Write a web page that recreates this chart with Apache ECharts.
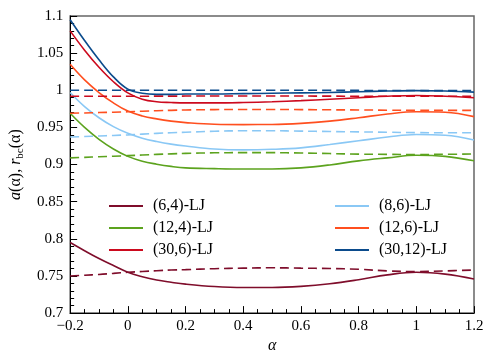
<!DOCTYPE html>
<html>
<head>
<meta charset="utf-8">
<script src="https://cdn.jsdelivr.net/npm/echarts@6/dist/echarts.min.js"></script>
<style>
  html, body { margin: 0; padding: 0; background: #fff; }
  #chart { width: 488px; height: 359px; }
</style>
</head>
<body>
<div id="chart"></div>
<script>
// alpha 取值
const alphaList = [-0.2, -0.15, -0.1, -0.05, 0, 0.05, 0.1, 0.15, 0.2, 0.3, 0.4, 0.5, 0.6, 0.7, 0.8, 0.9, 1.0, 1.1, 1.2];

// 实线 a(α)
const a64   = [0.795, 0.784, 0.7735, 0.764, 0.755, 0.749, 0.7445, 0.7415, 0.739, 0.7358, 0.7345, 0.7345, 0.736, 0.7395, 0.745, 0.7515, 0.755, 0.7525, 0.746];
const a86   = [0.997, 0.978, 0.963, 0.951, 0.942, 0.9355, 0.931, 0.9275, 0.925, 0.921, 0.9198, 0.9205, 0.9225, 0.927, 0.932, 0.937, 0.9405, 0.9395, 0.933];
const a124  = [0.969, 0.950, 0.934, 0.921, 0.911, 0.9045, 0.9005, 0.8975, 0.8955, 0.8945, 0.894, 0.894, 0.8955, 0.8995, 0.905, 0.909, 0.9125, 0.911, 0.905];
const a126  = [1.035, 1.014, 0.997, 0.983, 0.972, 0.9655, 0.9615, 0.9585, 0.9565, 0.9542, 0.9538, 0.954, 0.9555, 0.9585, 0.963, 0.968, 0.971, 0.9705, 0.9645];
const a306  = [1.080, 1.054, 1.031, 1.0115, 0.9965, 0.988, 0.9845, 0.9835, 0.983, 0.983, 0.9835, 0.9845, 0.986, 0.988, 0.990, 0.992, 0.993, 0.992, 0.990];
const a3012 = [1.095, 1.067, 1.041, 1.018, 1.0015, 0.996, 0.9945, 0.9945, 0.995, 0.995, 0.9955, 0.996, 0.9965, 0.997, 0.998, 0.999, 0.9995, 0.999, 0.9975];

// 虚线 r_bc(α)
const r64   = [0.750, 0.751, 0.752, 0.7535, 0.755, 0.756, 0.757, 0.758, 0.7585, 0.7598, 0.7605, 0.761, 0.7605, 0.760, 0.759, 0.7568, 0.756, 0.7568, 0.758];
const r86   = [0.937, 0.9377, 0.9385, 0.9392, 0.940, 0.941, 0.942, 0.9428, 0.9435, 0.9448, 0.9455, 0.9455, 0.945, 0.9445, 0.944, 0.9435, 0.943, 0.9428, 0.9428];
const r124  = [0.909, 0.9097, 0.9105, 0.9112, 0.912, 0.9128, 0.9137, 0.9144, 0.915, 0.9158, 0.916, 0.916, 0.9155, 0.9148, 0.914, 0.9137, 0.9135, 0.9138, 0.9142];
const r126  = [0.969, 0.9695, 0.970, 0.9705, 0.971, 0.9718, 0.9725, 0.973, 0.9735, 0.974, 0.9742, 0.9742, 0.974, 0.9737, 0.9735, 0.9732, 0.973, 0.973, 0.973];
const r306  = [0.992, 0.992, 0.992, 0.992, 0.992, 0.992, 0.9921, 0.9921, 0.9922, 0.9922, 0.9922, 0.9922, 0.9922, 0.9921, 0.992, 0.992, 0.992, 0.992, 0.992];
const r3012 = [1.0, 1.0, 1.0, 1.0, 1.0, 1.0, 1.0, 1.0, 1.0, 1.0, 1.0, 1.0, 1.0, 0.9999, 0.9998, 0.9997, 0.9996, 0.9995, 0.9995];

const names = ['(6,4)-LJ', '(8,6)-LJ', '(12,4)-LJ', '(12,6)-LJ', '(30,6)-LJ', '(30,12)-LJ'];
const colors = ['#7f0d2b', '#8ac8f5', '#5ca31e', '#ff4f1f', '#cc0a1e', '#0b4b8c'];
const solidList = [a64, a86, a124, a126, a306, a3012];
const dashList = [r64, r86, r124, r126, r306, r3012];

const FONT = '"Liberation Serif", "Times New Roman", serif';

function pairs(ys) {
  return alphaList.map((x, i) => [x, ys[i]]);
}

const series = [];
names.forEach((n, i) => {
  series.push({
    name: n + ' r', type: 'line', data: pairs(dashList[i]), smooth: 0.4,
    symbol: 'none', color: colors[i],
    lineStyle: { width: 1.6, type: [9, 5], color: colors[i] }
  });
  series.push({
    name: n, type: 'line', data: pairs(solidList[i]), smooth: 0.4,
    symbol: 'none', color: colors[i],
    lineStyle: { width: 1.6, color: colors[i] }
  });
});

const legendBase = {
  orient: 'vertical',
  top: 193,
  itemGap: 6,
  itemWidth: 34,
  itemHeight: 2,
  icon: 'rect',
  selectedMode: false,
  textStyle: { fontFamily: FONT, fontSize: 16, color: '#000', padding: [0, 0, 0, 5] }
};

var myChart = echarts.init(document.getElementById('chart'));
myChart.setOption({
  animation: false,
  grid: {
    left: 62, right: 14, top: 16, bottom: 36,
    show: true, borderColor: '#666', borderWidth: 1.5
  },
  legend: [
    Object.assign({}, legendBase, { left: 104, data: ['(6,4)-LJ', '(12,4)-LJ', '(30,6)-LJ'] }),
    Object.assign({}, legendBase, { left: 330, data: ['(8,6)-LJ', '(12,6)-LJ', '(30,12)-LJ'] })
  ],
  xAxis: {
    type: 'value', min: -0.2, max: 1.2, interval: 0.2,
    name: 'α', nameLocation: 'middle', nameGap: 24,
    nameTextStyle: { fontFamily: FONT, fontSize: 16, fontStyle: 'italic', color: '#000' },
    axisLine: { onZero: false, lineStyle: { color: '#000', width: 1 } },
    axisTick: { inside: true, length: 7, lineStyle: { color: '#000' } },
    minorTick: { show: true, splitNumber: 4, length: 4, lineStyle: { color: '#000' } },
    splitLine: { show: false },
    axisLabel: {
      fontFamily: FONT, fontSize: 15, color: '#000', margin: 5,
      formatter: v => String(Math.round(v * 10) / 10).replace('-', '\u2212')
    }
  },
  yAxis: {
    type: 'value', min: 0.7, max: 1.1, interval: 0.05,
    name: '{i|a}(α), {i|r}{s|bc}(α)', nameLocation: 'middle', nameGap: 40, nameRotate: 90,
    nameTextStyle: {
      fontFamily: FONT, fontSize: 16, color: '#000',
      rich: {
        i: { fontFamily: FONT, fontSize: 16, fontStyle: 'italic', color: '#000', lineHeight: 20 },
        s: { fontFamily: FONT, fontSize: 11, color: '#000', lineHeight: 11, verticalAlign: 'bottom' }
      }
    },
    axisLine: { show: true, onZero: false, lineStyle: { color: '#000', width: 1 } },
    axisTick: { inside: true, length: 7, lineStyle: { color: '#000' } },
    minorTick: { show: true, splitNumber: 5, length: 4, lineStyle: { color: '#000' } },
    splitLine: { show: false },
    axisLabel: {
      fontFamily: FONT, fontSize: 15, color: '#000', margin: 7,
      formatter: v => String(Math.round(v * 100) / 100)
    }
  },
  series: series
});
</script>
</body>
</html>
